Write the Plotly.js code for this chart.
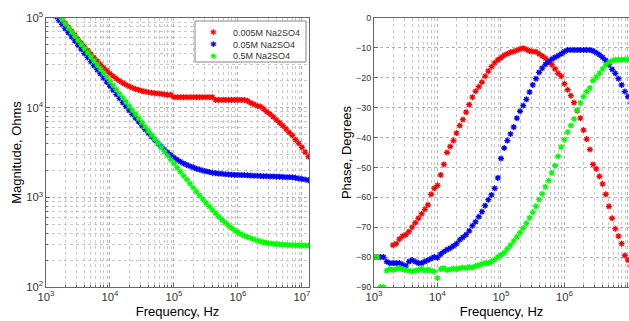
<!DOCTYPE html>
<html>
<head>
<meta charset="utf-8">
<script src="https://cdn.plot.ly/plotly-3.0.1.min.js"></script>
<style>
html,body{margin:0;padding:0;background:#fff;}
#chart{width:629px;height:321px;}
</style>
</head>
<body>
<div id="chart"></div>
<script>
// Frequency sweep (Hz)
const freq = [
 1000, 1122, 1259, 1413, 1585, 1778, 1995, 2239, 2512, 2818,
 3162, 3548, 3981, 4467, 5012, 5623, 6310, 7079, 7943, 8913,
 10000, 11220, 12589, 14125, 15849, 17783, 19953, 22387, 25119, 28184,
 31623, 35481, 39811, 44668, 50119, 56234, 63096, 70795, 79433, 89125,
 100000, 112202, 125893, 141254, 158489, 177828, 199526, 223872, 251189, 281838,
 316228, 354813, 398107, 446684, 501187, 562341, 630957, 707946, 794328, 891251,
 1000000, 1122018, 1258925, 1412538, 1584893, 1778279, 1995262, 2238721, 2511886, 2818383,
 3162278, 3548134, 3981072, 4466836, 5011872, 5623413, 6309573, 7079458, 7943282, 8912509,
 10000000, 11220185, 12589254
];

const seriesNames = ["0.005M Na2SO4", "0.05M Na2SO4", "0.5M Na2SO4"];
const seriesColors = ["#ff0000", "#0000ff", "#00ff00"];

// Impedance magnitude (Ohms)
const magRed = [
 163600, 147500, 132800, 119700, 107800, 97150, 87600, 79000, 71350, 64450,
 58280, 52770, 47840, 43460, 39550, 36080, 33010, 30300, 27920, 25830,
 24000, 22410, 21040, 19870, 18860, 18000, 17280, 16670, 16160, 15740,
 15390, 15100, 14860, 14660, 14500, 14370, 14260, 14100, 13900, 13900,
 13100, 13100, 13100, 13100, 13100, 13100, 13100, 13100, 13100, 13100,
 13100, 13100, 13100, 12200, 12200, 12200, 12200, 12200, 12200, 12200,
 12200, 12200, 12200, 11900, 11300, 10900, 10500, 10300, 9700, 9000,
 8500, 7900, 7300, 6800, 6300, 5800, 5300, 4900, 4400, 4000,
 3600, 3200, 2850
];
const magBlue = [
 144000, 129400, 116400, 104700, 94200, 84700, 76200, 68500, 61700, 55500,
 49900, 44900, 40400, 36300, 32700, 29400, 26500, 23900, 21500, 19300,
 17400, 15700, 14100, 12700, 11400, 10300, 9330, 8450, 7640, 6920,
 6280, 5710, 5190, 4750, 4350, 3990, 3680, 3400, 3170, 2960,
 2780, 2630, 2500, 2390, 2300, 2220, 2160, 2090, 2040, 1990,
 1950, 1920, 1880, 1860, 1840, 1830, 1810, 1800, 1790, 1780,
 1780, 1770, 1770, 1760, 1750, 1740, 1740, 1730, 1720, 1720,
 1710, 1710, 1700, 1700, 1690, 1680, 1680, 1670, 1650, 1620,
 1600, 1580, 1550
];
const magGreen = [
 163000, 146900, 132100, 118900, 106900, 96200, 86500, 77800, 70000, 62900,
 56600, 50900, 45800, 41200, 37100, 33300, 30000, 27000, 24300, 21800,
 19600, 17700, 15900, 14300, 12900, 11600, 10400, 9350, 8410, 7570,
 6810, 6120, 5510, 4950, 4460, 4010, 3610, 3240, 2930, 2640,
 2380, 2140, 1930, 1740, 1580, 1420, 1280, 1160, 1050, 955,
 868, 791, 723, 663, 609, 563, 522, 486, 455, 429,
 406, 388, 372, 360, 350, 340, 330, 322, 316, 311,
 306, 303, 301, 299, 297, 295, 294, 293, 292, 291,
 291, 290, 290
];

// Phase (degrees)
const phRed = [
 null, null, null, null, null, null, -76, -75.5, -74, -73,
 -72.5, -71.5, -70, -68.5, -67, -65.5, -64, -62.5, -59, -57,
 -56, -52.5, -49, -45, -43, -41, -38.5, -36, -34, -31.5,
 -29, -26.5, -24.5, -23, -21.5, -19.5, -17.8, -16.3, -15, -14,
 -13.3, -12.5, -12, -11.5, -11.2, -10.8, -10.4, -10.1, -10.5, -11,
 -11.2, -11.3, -12, -12.7, -13.5, -14.6, -15.6, -17, -18.5, -19.5,
 -22, -24, -26, -28.3, -31, -33.5, -37.5, -40.5, -44, -49,
 -50.5, -53, -55.5, -59, -63, -67, -70.5, -73, -75.5, -79.5,
 -81, -83, -85
];
const phBlue = [
 -80, -80, -80, -80, -81.5, -82, -82, -82, -82, -82.5,
 -83, -81.5, -81, -81.5, -82, -82, -81.5, -81, -80.5, -80,
 -80.2, -79, -78.2, -77.5, -77, -76.3, -75.5, -74.2, -73.4, -72.5,
 -71.2, -69.5, -68.2, -66.5, -64.8, -62.8, -60.8, -59.2, -57, -53.5,
 -47, -43.5, -41, -38.8, -36.5, -33.5, -31.2, -29.3, -27.2, -24.8,
 -22.4, -20.3, -18.2, -16.8, -15.5, -14.6, -13.8, -13.2, -12.6, -12,
 -11.2, -10.7, -10.7, -10.7, -10.7, -10.7, -10.7, -10.7, -10.7, -11,
 -11.6, -12.3, -13.2, -14.2, -15.6, -17.2, -18.5, -20.3, -22.4, -24.6,
 -26.3, -28.5, -30.5
];
const phGreen = [
 -80, -80, -90, -90, -84.5, -84, -84.3, -84, -83.7, -84,
 -84.3, -84.5, -84.8, -84.5, -84.3, -83.8, -84.5, -84.2, -84.5, -84.8,
 -87, -84, -83.7, -84.3, -84.2, -83.8, -84, -83.7, -83.5, -83.7,
 -83.3, -83.5, -83, -82.7, -82.3, -82, -82, -81.5, -80.8, -80,
 -79.3, -78.5, -77.2, -76, -74.6, -73.2, -71.8, -70.3, -68.7, -66.9,
 -65, -63, -60.8, -58.8, -56.5, -54.4, -51.8, -49.4, -46.3, -43.2,
 -40.7, -38.2, -36, -33.8, -30.8, -28.4, -26.3, -24.6, -23.4, -21,
 -19.8, -18.5, -17, -15.7, -14.9, -14.3, -14, -14, -14, -13.9,
 -13.9, -13.9, -13.9
];

const magSeries = [magRed, magBlue, magGreen];
const phSeries = [phRed, phBlue, phGreen];

function mk(color) {
  return {symbol: 'asterisk-open', size: 5, color: color, line: {color: color, width: 1.3}};
}

const traces = [];
magSeries.forEach((ys, i) => {
  traces.push({x: freq, y: ys, type: 'scatter', mode: 'markers', name: seriesNames[i],
    marker: mk(seriesColors[i]), xaxis: 'x', yaxis: 'y', showlegend: false});
});
phSeries.forEach((ys, i) => {
  traces.push({x: freq, y: ys, type: 'scatter', mode: 'markers', name: seriesNames[i],
    marker: mk(seriesColors[i]), xaxis: 'x2', yaxis: 'y2', showlegend: false});
});

const FONT = 'Liberation Sans, Arial, sans-serif';
const gridC = '#b0b0b0';
const frameC = '#666';
const minorGrid = {dtick: 'D1', showgrid: true, gridcolor: '#c8c8c8', griddash: 'dot', gridwidth: 1, ticks: 'inside', ticklen: 2, tickcolor: '#666'};

function logX(domain, range, mirror) {
  return {
    type: 'log', domain: domain, range: range, dtick: 1, exponentformat: 'power',
    showgrid: true, gridcolor: gridC, griddash: 'dot', gridwidth: 1,
    minor: minorGrid,
    ticks: 'inside', ticklen: 4, tickcolor: '#666',
    showline: true, linecolor: frameC, linewidth: 1, mirror: mirror,
    tickfont: {family: FONT, size: 9, color: '#333'},
    title: {text: 'Frequency, Hz', font: {family: FONT, size: 13, color: '#000'}, standoff: 4},
    zeroline: false, automargin: false
  };
}

// Legend box (drawn as shapes/annotations to match the compact original legend)
const W = 629, PT = 18, PH = 269;
const px = v => v / W;
const py = v => 1 - (v - PT) / PH;
const legRows = [33, 44.5, 56];
const shapes = [{type: 'rect', xref: 'paper', yref: 'paper', x0: px(195), x1: px(306), y0: py(62), y1: py(21),
  line: {color: '#888', width: 1}, fillcolor: '#fff', layer: 'above'}];
const annotations = [];
seriesNames.forEach((n, i) => {
  annotations.push({xref: 'paper', yref: 'paper', x: px(231), y: py(legRows[i]), xanchor: 'left', yanchor: 'middle',
    text: n, showarrow: false, font: {family: FONT, size: 9, color: '#333'}});
  annotations.push({xref: 'paper', yref: 'paper', x: px(213), y: py(legRows[i]), xanchor: 'center', yanchor: 'middle',
    text: '✱', showarrow: false, font: {family: 'DejaVu Sans', size: 8, color: seriesColors[i]}});
});

const layout = {
  width: 629, height: 321,
  margin: {l: 0, r: 0, t: 18, b: 34},
  paper_bgcolor: '#fff', plot_bgcolor: '#fff',
  showlegend: false,
  shapes: shapes,
  annotations: annotations,
  xaxis: logX([46/629, 309/629], [3, 7.11], true),
  yaxis: {
    type: 'log', domain: [0, 1], range: [2, 5], dtick: 1, exponentformat: 'power',
    showgrid: true, gridcolor: gridC, griddash: 'dot', gridwidth: 1,
    minor: minorGrid,
    ticks: 'inside', ticklen: 4, tickcolor: '#666',
    showline: true, linecolor: frameC, linewidth: 1, mirror: true,
    tickfont: {family: FONT, size: 9, color: '#333'},
    title: {text: 'Magnitude, Ohms', font: {family: FONT, size: 13, color: '#000'}, standoff: 1},
    zeroline: false, automargin: false, anchor: 'x'
  },
  xaxis2: Object.assign(logX([374/629, 1], [3, 7.016], true), {anchor: 'y2'}),
  yaxis2: {
    domain: [0, 1], range: [-90, 0], dtick: 10,
    showgrid: true, gridcolor: gridC, griddash: 'dot', gridwidth: 1,
    ticks: 'inside', ticklen: 4, tickcolor: '#666',
    showline: true, linecolor: frameC, linewidth: 1, mirror: false,
    tickfont: {family: FONT, size: 9, color: '#333'},
    title: {text: 'Phase, Degrees', font: {family: FONT, size: 13, color: '#000'}, standoff: 1},
    zeroline: false, automargin: false, anchor: 'x2'
  }
};

Plotly.newPlot('chart', traces, layout, {displayModeBar: false, staticPlot: true});
</script>
</body>
</html>
